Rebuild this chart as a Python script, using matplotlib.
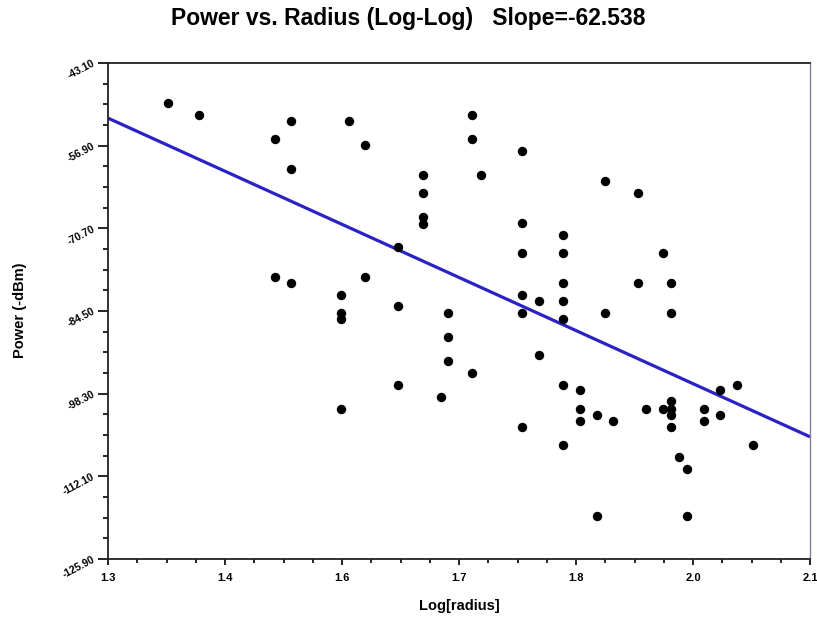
import numpy as np
import matplotlib
matplotlib.use("Agg")
import matplotlib.pyplot as plt
from matplotlib.ticker import FixedLocator

# ---- data ----
log_radius = [1.368, 1.404, 1.490, 1.508, 1.508, 1.575, 1.593, 1.659, 1.659, 1.659,
              1.659, 1.631, 1.490, 1.508, 1.593, 1.565, 1.631, 1.565, 1.565, 1.631,
              1.565, 1.680, 1.687, 1.687, 1.687, 1.715, 1.715, 1.715, 1.772, 1.725,
              1.866, 1.904, 1.772, 1.819, 1.772, 1.819, 1.933, 1.819, 1.904, 1.942,
              1.772, 1.791, 1.819, 1.772, 1.819, 1.866, 1.942, 1.791, 1.819, 1.838,
              2.017, 1.998, 1.838, 1.838, 1.857, 1.875, 1.913, 1.933, 1.942, 1.942,
              1.942, 1.942, 1.979, 1.979, 1.998, 1.772, 1.819, 2.035, 1.951, 1.960,
              1.857, 1.960]
power = [-49.7, -51.7, -55.8, -52.7, -60.8, -52.7, -56.8, -61.8, -64.8, -68.8,
         -69.9, -73.8, -78.8, -79.8, -78.8, -81.8, -83.7, -84.9, -85.9, -96.8,
         -100.8, -98.8, -84.8, -88.8, -92.8, -94.8, -51.7, -55.8, -57.8, -61.8,
         -62.8, -64.8, -69.8, -71.8, -74.8, -74.8, -74.8, -79.8, -79.8, -79.8,
         -81.8, -82.8, -82.8, -84.8, -85.9, -84.8, -84.8, -91.9, -96.8, -97.7,
         -96.8, -97.7, -100.8, -102.8, -101.9, -102.8, -100.8, -100.8, -99.6, -100.8,
         -101.9, -103.8, -100.8, -102.8, -101.9, -103.8, -106.8, -106.8, -108.8, -110.8,
         -118.8, -118.8]
fit_x = [1.3, 2.1]
fit_y = [-52.3, -105.5]
slope_text = "-62.538"

x_ticks = [1.3 + k * 0.8 / 6 for k in range(7)]
x_tick_labels = ["1.3", "1.4", "1.6", "1.7", "1.8", "2.0", "2.1"]
y_ticks = [-43.10, -56.90, -70.70, -84.50, -98.30, -112.10, -125.90]
y_tick_labels = ["%.2f" % v for v in y_ticks]

# ---- figure ----
plt.rcParams['font.family'] = ['Liberation Sans', 'DejaVu Sans']
fig = plt.figure(figsize=(8.17, 6.26), dpi=100)
ax = fig.add_axes([108 / 817, 1 - 559 / 626, (810 - 108) / 817, (559 - 63) / 626])

ax.plot(fit_x, fit_y, color="#2a22c4", lw=2.3, zorder=2, solid_capstyle='butt')
ax.scatter(log_radius, power, s=46, color="black", zorder=3, linewidths=0)

ax.set_xlim(1.3, 2.1)
ax.set_ylim(-125.90, -43.10)

ax.xaxis.set_major_locator(FixedLocator(x_ticks))
ax.set_xticklabels(x_tick_labels, fontsize=8, fontweight='bold')
ax.xaxis.set_minor_locator(FixedLocator([1.3 + k * 0.8 / 24 for k in range(25)]))
ax.yaxis.set_major_locator(FixedLocator(y_ticks))
ax.set_yticklabels(y_tick_labels, fontsize=7.5, fontweight='bold', rotation=28,
                   rotation_mode='anchor', ha='right', va='center')
ax.yaxis.set_minor_locator(FixedLocator([-125.9 + k * 13.8 / 4 for k in range(25)]))

ax.tick_params(axis='both', which='major', direction='out', length=7, width=1.2, colors='black')
ax.tick_params(axis='both', which='minor', direction='out', length=3.5, width=1.2, colors='black')
ax.tick_params(axis='x', which='major', length=4, pad=6)
ax.tick_params(axis='x', which='minor', length=3)
ax.tick_params(axis='y', which='major', pad=3)

for side in ['left', 'bottom', 'top']:
    ax.spines[side].set_color('#222222')
    ax.spines[side].set_linewidth(1.3)
ax.spines['right'].set_color('#8a7a9a')
ax.spines['right'].set_linewidth(1.0)

fig.text(0.5, 1 - 19 / 626, "Power vs. Radius (Log-Log)   Slope=" + slope_text,
         ha='center', va='center', fontsize=16.5, fontweight='bold')
fig.text(459 / 817, 1 - 606 / 626, "Log[radius]", ha='center', va='center',
         fontsize=10.5, fontweight='bold')
fig.text(20 / 817, 1 - 310 / 626, "Power (-dBm)", ha='center', va='center',
         fontsize=10.5, fontweight='bold', rotation=90)

fig.savefig("out.png", dpi=100)
